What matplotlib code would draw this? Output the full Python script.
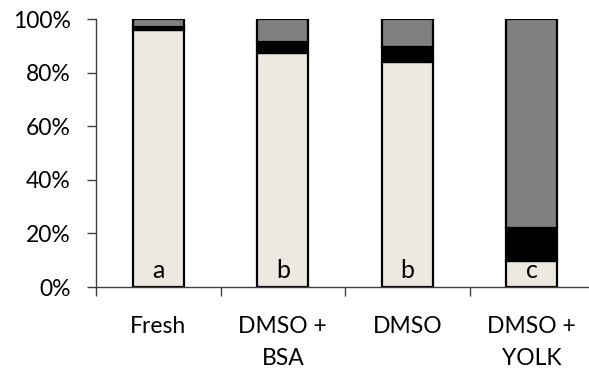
import matplotlib.pyplot as plt
import numpy as np

# stacked proportions per treatment (%)
groups = ["Fresh", "DMSO +\nBSA", "DMSO", "DMSO +\nYOLK"]
live = [96.0, 87.5, 84.0, 9.7]
damaged = [1.0, 4.1, 5.7, 12.2]
dead = [3.0, 8.4, 10.3, 78.1]
letters = ["a", "b", "b", "c"]

plt.rcParams['font.family'] = ['Lato', 'DejaVu Sans']

fig = plt.figure(figsize=(5.89, 3.72), dpi=100)
ax = fig.add_axes([96 / 589, 85 / 372, 498 / 589, 268 / 372])

x = np.arange(len(groups))
w = 0.41
edge = dict(edgecolor="black", linewidth=1.6)
ax.bar(x, live, w, color="#ECEAE0", **edge)
ax.bar(x, damaged, w, bottom=live, color="black", **edge)
ax.bar(x, dead, w, bottom=np.add(live, damaged), color="#808080", **edge)

for xi, t in zip(x, letters):
    ax.text(xi, 6.3, t, ha="center", va="center", fontsize=18)

ax.set_xlim(-0.5, 3.5)
ax.set_ylim(0, 100)
ax.set_yticks(np.arange(0, 101, 20))
ax.set_yticklabels([f"{v}%" for v in range(0, 101, 20)], fontsize=16.5)
ax.set_xticks(x)
ax.set_xticklabels(groups, fontsize=16.5, linespacing=1.65)
ax.set_xticks(np.arange(-0.5, 3.6, 1), minor=True)
ax.tick_params(axis="x", which="major", length=0, pad=21)
ax.tick_params(axis="x", which="minor", length=6.5, width=1, color="#404040")
ax.tick_params(axis="y", length=6.2, width=1, pad=12, color="#404040")

for s in ["top", "right"]:
    ax.spines[s].set_visible(False)
for s in ["left", "bottom"]:
    ax.spines[s].set_color("#404040")
    ax.spines[s].set_linewidth(1)

fig.savefig("out.png", dpi=100)
